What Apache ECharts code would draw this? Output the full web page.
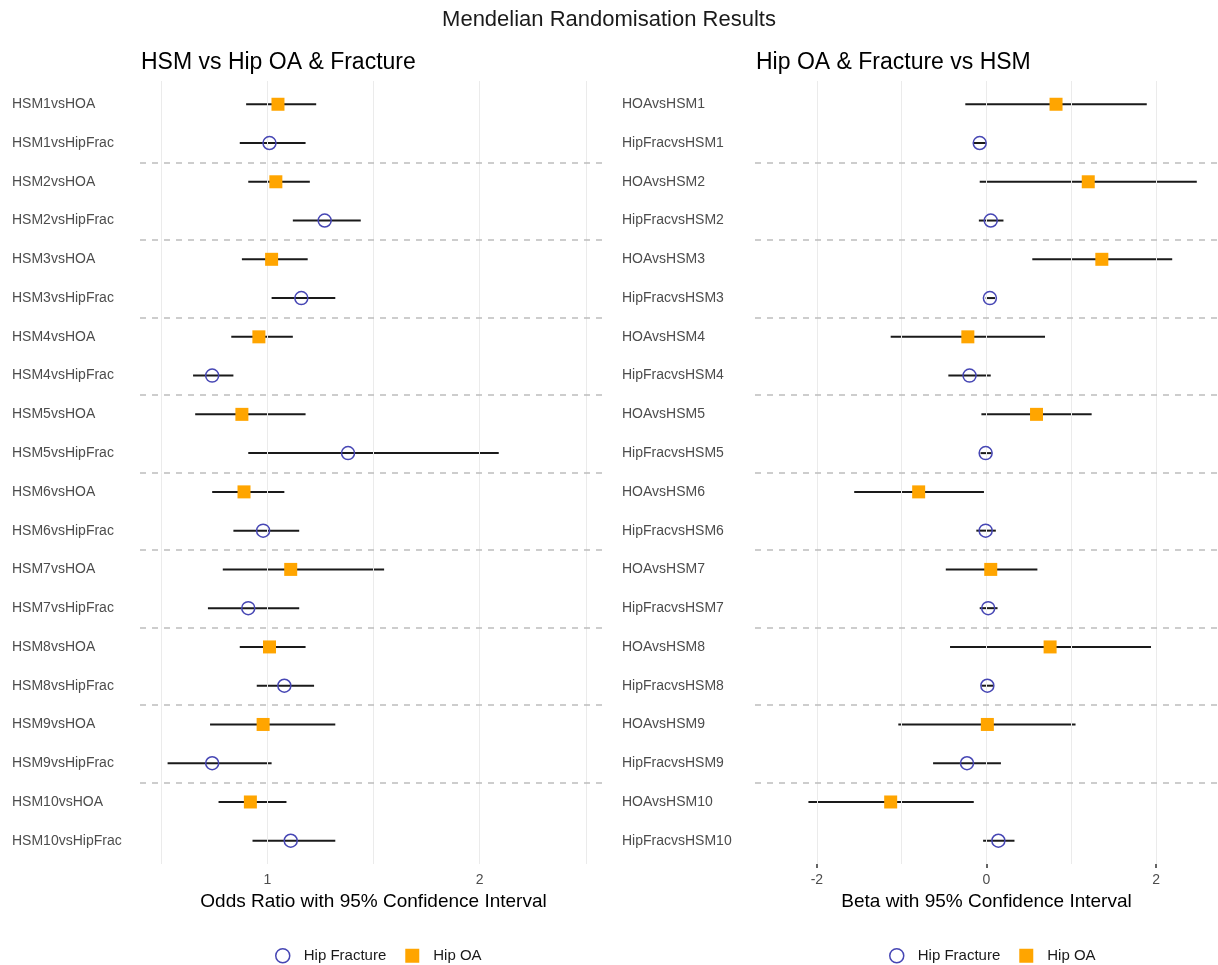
<!DOCTYPE html>
<html>
<head>
<meta charset="utf-8">
<script src="https://cdn.jsdelivr.net/npm/echarts@6/dist/echarts.min.js"></script>
<style>
  html, body { margin: 0; padding: 0; background: #fff; }
  #chart { width: 1218px; height: 965px; }
</style>
</head>
<body>
<div id="chart"></div>
<script>
// rows, top to bottom; odd rows are Hip OA, even rows Hip Fracture
const leftLabels = [
  'HSM1vsHOA', 'HSM1vsHipFrac', 'HSM2vsHOA', 'HSM2vsHipFrac',
  'HSM3vsHOA', 'HSM3vsHipFrac', 'HSM4vsHOA', 'HSM4vsHipFrac',
  'HSM5vsHOA', 'HSM5vsHipFrac', 'HSM6vsHOA', 'HSM6vsHipFrac',
  'HSM7vsHOA', 'HSM7vsHipFrac', 'HSM8vsHOA', 'HSM8vsHipFrac',
  'HSM9vsHOA', 'HSM9vsHipFrac', 'HSM10vsHOA', 'HSM10vsHipFrac'
];
const leftOR = [1.05, 1.01, 1.04, 1.27, 1.02, 1.16, 0.96, 0.74, 0.88, 1.38,
  0.89, 0.98, 1.11, 0.91, 1.01, 1.08, 0.98, 0.74, 0.92, 1.11];
const leftLow = [0.90, 0.87, 0.91, 1.12, 0.88, 1.02, 0.83, 0.65, 0.66, 0.91,
  0.74, 0.84, 0.79, 0.72, 0.87, 0.95, 0.73, 0.53, 0.77, 0.93];
const leftHigh = [1.23, 1.18, 1.20, 1.44, 1.19, 1.32, 1.12, 0.84, 1.18, 2.09,
  1.08, 1.15, 1.55, 1.15, 1.18, 1.22, 1.32, 1.02, 1.09, 1.32];

const rightLabels = [
  'HOAvsHSM1', 'HipFracvsHSM1', 'HOAvsHSM2', 'HipFracvsHSM2',
  'HOAvsHSM3', 'HipFracvsHSM3', 'HOAvsHSM4', 'HipFracvsHSM4',
  'HOAvsHSM5', 'HipFracvsHSM5', 'HOAvsHSM6', 'HipFracvsHSM6',
  'HOAvsHSM7', 'HipFracvsHSM7', 'HOAvsHSM8', 'HipFracvsHSM8',
  'HOAvsHSM9', 'HipFracvsHSM9', 'HOAvsHSM10', 'HipFracvsHSM10'
];
const rightBeta = [0.82, -0.08, 1.20, 0.05, 1.36, 0.04, -0.22, -0.20, 0.59, -0.01,
  -0.80, -0.01, 0.05, 0.02, 0.75, 0.01, 0.01, -0.23, -1.13, 0.14];
const rightLow = [-0.25, -0.15, -0.08, -0.09, 0.54, -0.01, -1.13, -0.45, -0.06, -0.07,
  -1.56, -0.12, -0.48, -0.08, -0.43, -0.06, -1.04, -0.63, -2.10, -0.04];
const rightHigh = [1.89, -0.01, 2.48, 0.20, 2.19, 0.10, 0.69, 0.05, 1.24, 0.06,
  -0.03, 0.11, 0.60, 0.13, 1.94, 0.08, 1.05, 0.17, -0.15, 0.33];

const outcomes = leftLabels.map(l => (l.endsWith('HOA') ? 'Hip OA' : 'Hip Fracture'));
const separators = [2.5, 4.5, 6.5, 8.5, 10.5, 12.5, 14.5, 16.5, 18.5];
const rowIds = leftLabels.map((_, i) => i + 1);

const BLUE = '#4646B4';
const ORANGE = '#FFA500';
const FONT = '"Liberation Sans", Arial, Helvetica, sans-serif';

const chart = echarts.init(document.getElementById('chart'));

const pointsFor = (vals, name) =>
  vals.map((v, i) => [v, i + 1]).filter((_, i) => outcomes[i] === name);

const errorBars = (idx, lo, hi) => ({
  type: 'custom',
  xAxisIndex: idx,
  yAxisIndex: idx,
  z: 3,
  silent: true,
  data: lo.map((v, i) => [v, hi[i], i + 1]),
  encode: { x: [0, 1], y: 2 },
  renderItem: (params, api) => {
    const a = api.coord([api.value(0), api.value(2)]);
    const b = api.coord([api.value(1), api.value(2)]);
    return {
      type: 'line',
      shape: { x1: a[0], y1: a[1], x2: b[0], y2: b[1] },
      style: { stroke: '#1a1a1a', lineWidth: 2 }
    };
  }
});

const guides = (idx, xs) => ({
  type: 'scatter',
  xAxisIndex: idx,
  yAxisIndex: idx,
  data: [],
  silent: true,
  z: 1,
  markLine: {
    silent: true,
    symbol: 'none',
    label: { show: false },
    animation: false,
    data: xs.map(x => ({ xAxis: x, lineStyle: { color: '#ebebeb', width: 1, type: 'solid' } }))
      .concat(separators.map(y => ({ yAxis: y, lineStyle: { color: '#bdbdbd', width: 1.5, type: [6, 6] } })))
  }
});

const markers = idx => {
  const vals = idx === 0 ? leftOR : rightBeta;
  return [
    {
      name: 'Hip Fracture',
      type: 'scatter',
      xAxisIndex: idx,
      yAxisIndex: idx,
      z: 5,
      symbol: 'circle',
      symbolSize: 13,
      itemStyle: { color: 'rgba(255,255,255,0)', borderColor: BLUE, borderWidth: 1.5, opacity: 1 },
      data: pointsFor(vals, 'Hip Fracture')
    },
    {
      name: 'Hip OA',
      type: 'scatter',
      xAxisIndex: idx,
      yAxisIndex: idx,
      z: 5,
      symbol: 'rect',
      symbolSize: 13,
      itemStyle: { color: ORANGE, opacity: 1 },
      data: pointsFor(vals, 'Hip OA')
    }
  ];
};

const yAxisFor = (idx, labels, margin) => ({
  type: 'value',
  gridIndex: idx,
  inverse: true,
  min: 0.4,
  max: 20.6,
  splitLine: { show: false },
  axisLine: { show: false },
  axisTick: { show: false },
  axisLabel: {
    customValues: rowIds,
    formatter: v => labels[Math.round(v) - 1] || '',
    align: 'left',
    margin: margin,
    color: '#4d4d4d',
    fontSize: 14,
    fontFamily: FONT
  }
});

const legendFor = left => ({
  left: left,
  top: 943,
  itemWidth: 14,
  itemHeight: 14,
  itemGap: 19,
  textStyle: { fontSize: 15, color: '#1a1a1a', fontFamily: FONT, padding: [0, 0, 0, 9] },
  data: [
    { name: 'Hip Fracture', icon: 'circle', itemStyle: { color: 'rgba(255,255,255,0)', borderColor: BLUE, borderWidth: 1.5 } },
    { name: 'Hip OA', icon: 'rect', itemStyle: { color: ORANGE } }
  ]
});

chart.setOption({
  animation: false,
  backgroundColor: '#fff',
  textStyle: { fontFamily: FONT },
  title: [
    {
      text: 'Mendelian Randomisation Results',
      left: 'center',
      top: 4,
      textStyle: { fontSize: 22, fontWeight: 'normal', color: '#1a1a1a', fontFamily: FONT }
    },
    {
      text: 'HSM vs Hip OA & Fracture',
      left: 136,
      top: 46,
      textStyle: { fontSize: 23, fontWeight: 'normal', color: '#000', fontFamily: FONT }
    },
    {
      text: 'Hip OA & Fracture vs HSM',
      left: 751,
      top: 46,
      textStyle: { fontSize: 23, fontWeight: 'normal', color: '#000', fontFamily: FONT }
    }
  ],
  legend: [legendFor(270), legendFor(884)],
  grid: [
    { left: 140, right: 611, top: 81, bottom: 101 },
    { left: 755, right: 0, top: 81, bottom: 101 }
  ],
  xAxis: [
    {
      type: 'value',
      gridIndex: 0,
      min: 0.4,
      max: 2.6,
      splitLine: { show: false },
      axisLine: { show: false, onZero: false },
      axisTick: { show: false },
      axisLabel: { customValues: [1, 2], color: '#4d4d4d', fontSize: 14, margin: 9, fontFamily: FONT },
      name: 'Odds Ratio with 95% Confidence Interval',
      nameLocation: 'middle',
      nameGap: 28,
      nameTextStyle: { fontSize: 19, color: '#000', fontFamily: FONT }
    },
    {
      type: 'value',
      gridIndex: 1,
      min: -2.73,
      max: 2.73,
      splitLine: { show: false },
      axisLine: { show: false, onZero: false },
      axisTick: { show: true, customValues: [-2, 0, 2], length: 4, lineStyle: { color: '#333', width: 1.5 } },
      axisLabel: { customValues: [-2, 0, 2], color: '#4d4d4d', fontSize: 14, margin: 9, fontFamily: FONT },
      name: 'Beta with 95% Confidence Interval',
      nameLocation: 'middle',
      nameGap: 28,
      nameTextStyle: { fontSize: 19, color: '#000', fontFamily: FONT }
    }
  ],
  yAxis: [yAxisFor(0, leftLabels, 128), yAxisFor(1, rightLabels, 133)],
  series: [
    guides(0, [0.5, 1, 1.5, 2, 2.5]),
    guides(1, [-2, -1, 0, 1, 2]),
    errorBars(0, leftLow, leftHigh),
    errorBars(1, rightLow, rightHigh),
    ...markers(0),
    ...markers(1)
  ]
});
</script>
</body>
</html>
